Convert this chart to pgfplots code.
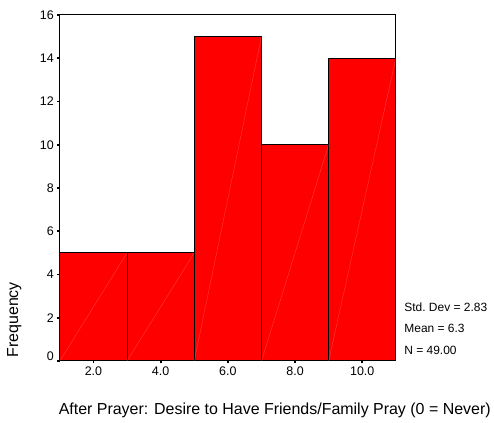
\documentclass[border=0pt]{standalone}
\usepackage{pgfplots}
\pgfplotsset{compat=1.18}
\usepackage{fontspec}
\setmainfont{Liberation Sans}

\begin{document}
\begin{tikzpicture}
  \begin{axis}[
      name=ax,
      scale only axis,
      width=337pt, height=347pt,
      xmin=1, xmax=11,
      ymin=0, ymax=16,
      axis lines=box,
      axis line style={draw=black!60, line width=1pt},
      separate axis lines,
      x axis line style={draw=black},
      y axis line style={draw=black},
      xtick={2,4,6,8,10},
      xticklabels={2.0,4.0,6.0,8.0,10.0},
      ytick={0,2,4,6,8,10,12,14,16},
      tick align=outside,
      xtick pos=bottom, ytick pos=left,
      major tick length=2.5pt,
      tick style={black, line width=1.8pt},
      ticklabel style={font=\fontsize{12.5}{14}\selectfont},
      yticklabel style={yshift={ifthenelse(\ticknum==0,5,0)}},
      /pgf/number format/assume math mode=true,
      xlabel={After Prayer: Desire to Have Friends/Family Pray (0 = Never)},
      xlabel style={font=\fontsize{16}{18}\selectfont, at={(axis description cs:0.5,-0.085)}, anchor=north, xshift=47pt, yshift=-9pt},
      ylabel={Frequency},
      ylabel style={font=\fontsize{16}{18}\selectfont, at={(axis description cs:-0.104,0)}, anchor=south west},
      clip=false,
    ]
    \addplot[ybar interval, fill=red, draw=black, line width=1pt]
      coordinates {(1,5) (3,5) (5,15) (7,10) (9,14) (11,14)};
    % faint diagonals inside the bars
    \addplot[white, opacity=0.35, very thin] coordinates {(1,0) (3,5)};
    \addplot[white, opacity=0.35, very thin] coordinates {(3,0) (5,5)};
    \addplot[white, opacity=0.35, very thin] coordinates {(5,0) (7,15)};
    \addplot[white, opacity=0.35, very thin] coordinates {(7,0) (9,10)};
    \addplot[white, opacity=0.35, very thin] coordinates {(9,0) (11,14)};
    \node[anchor=west, font=\fontsize{12}{14}\selectfont] at ([xshift=5pt]axis cs:11,2.5) {Std.\ Dev = 2.83};
    \node[anchor=west, font=\fontsize{12}{14}\selectfont] at ([xshift=5pt]axis cs:11,1.5) {Mean = 6.3};
    \node[anchor=west, font=\fontsize{12}{14}\selectfont] at ([xshift=5pt]axis cs:11,0.5) {N = 49.00};
  \end{axis}
  \path (ax.south west) ++(-60pt,-62pt) rectangle ([shift={(97pt,15pt)}]ax.north east);
\end{tikzpicture}
\end{document}
